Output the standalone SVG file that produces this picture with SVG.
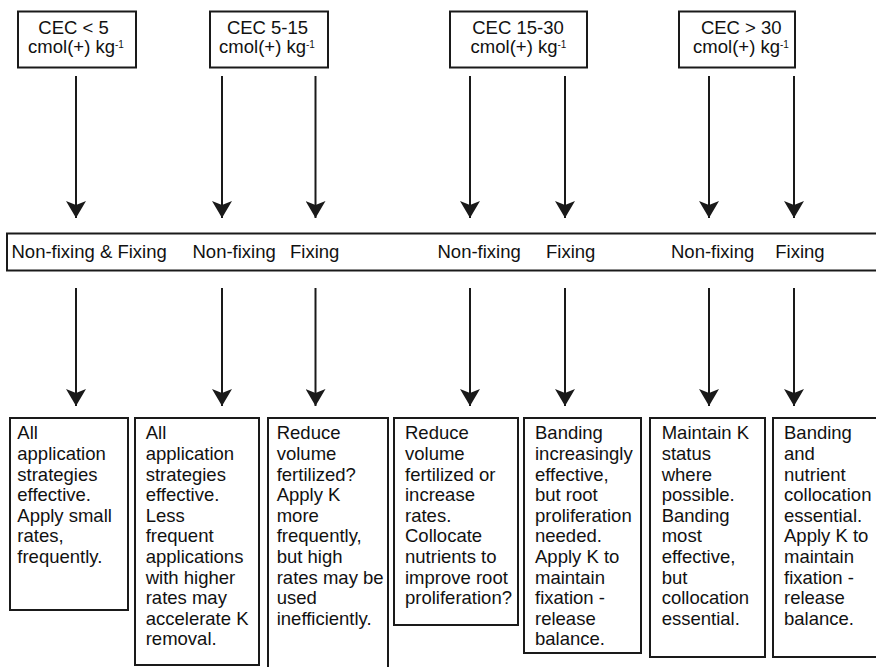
<svg xmlns="http://www.w3.org/2000/svg" width="876" height="667" viewBox="0 0 876 667">
<style>
text{font-family:"Liberation Sans",Arial,sans-serif;font-size:18.5px;fill:#111}
.box{fill:#fff;stroke:#1a1a1a;stroke-width:2}
.c{text-anchor:middle}
.sup{font-size:10px}
.arr{stroke:#1a1a1a;stroke-width:2;fill:none;marker-end:url(#ah)}
</style>
<defs>
<marker id="ah" markerUnits="userSpaceOnUse" viewBox="0 -10 18 20" refX="17" refY="0" markerWidth="18" markerHeight="20" orient="auto">
<path d="M0,-10 L17,0 L0,10 L4,0 Z" fill="#1a1a1a"/>
</marker>
</defs>
<rect width="876" height="667" fill="#fff"/>

<g id="connectors">
<line class="arr" x1="76" y1="76" x2="76" y2="218"/>
<line class="arr" x1="222" y1="76" x2="222" y2="218"/>
<line class="arr" x1="315.5" y1="76" x2="315.5" y2="218"/>
<line class="arr" x1="470" y1="76" x2="470" y2="218"/>
<line class="arr" x1="565" y1="76" x2="565" y2="218"/>
<line class="arr" x1="709" y1="76" x2="709" y2="218"/>
<line class="arr" x1="794" y1="76" x2="794" y2="218"/>
<line class="arr" x1="76" y1="288" x2="76" y2="406"/>
<line class="arr" x1="222" y1="288" x2="222" y2="406"/>
<line class="arr" x1="315.5" y1="288" x2="315.5" y2="406"/>
<line class="arr" x1="470" y1="288" x2="470" y2="406"/>
<line class="arr" x1="565" y1="288" x2="565" y2="406"/>
<line class="arr" x1="709" y1="288" x2="709" y2="406"/>
<line class="arr" x1="794" y1="288" x2="794" y2="406"/>
</g>

<g id="cec1">
<rect class="box" x="18" y="11.5" width="118" height="56"/>
<text class="c" x="73.5" y="33.5">CEC &lt; 5</text>
<text class="c" x="76" y="52.5">cmol(+) kg<tspan class="sup" dy="-4.5">-1</tspan></text>
</g>
<g id="cec2">
<rect class="box" x="210" y="11.5" width="118" height="56"/>
<text class="c" x="267.5" y="33.5">CEC 5-15</text>
<text class="c" x="267" y="52.5">cmol(+) kg<tspan class="sup" dy="-4.5">-1</tspan></text>
</g>
<g id="cec3">
<rect class="box" x="450" y="11.5" width="137" height="56"/>
<text class="c" x="518" y="33.5">CEC 15-30</text>
<text class="c" x="518.5" y="52.5">cmol(+) kg<tspan class="sup" dy="-4.5">-1</tspan></text>
</g>
<g id="cec4">
<rect class="box" x="679" y="11.5" width="116" height="56"/>
<text class="c" x="741.3" y="33.5">CEC &gt; 30</text>
<text class="c" x="741" y="52.5">cmol(+) kg<tspan class="sup" dy="-4.5">-1</tspan></text>
</g>

<g id="types">
<rect class="box" x="7" y="233.5" width="880" height="37"/>
<text x="11.5" y="257.5">Non-fixing &amp; Fixing</text>
<text x="192.5" y="257.5">Non-fixing</text>
<text x="290" y="257.5">Fixing</text>
<text x="437.5" y="257.5">Non-fixing</text>
<text x="546" y="257.5">Fixing</text>
<text x="671" y="257.5">Non-fixing</text>
<text x="775.3" y="257.5">Fixing</text>
</g>

<g id="rec1">
<rect class="box" x="10" y="418" width="118" height="192"/>
<text x="17.3" y="439.3">
<tspan x="17.3" dy="0">All</tspan><tspan x="17.3" dy="20.6">application</tspan><tspan x="17.3" dy="20.6">strategies</tspan><tspan x="17.3" dy="20.6">effective.</tspan><tspan x="17.3" dy="20.6">Apply small</tspan><tspan x="17.3" dy="20.6">rates,</tspan><tspan x="17.3" dy="20.6">frequently.</tspan>
</text>
</g>
<g id="rec2">
<rect class="box" x="135" y="418" width="124" height="247"/>
<text x="145.7" y="439.3">
<tspan x="145.7" dy="0">All</tspan><tspan x="145.7" dy="20.6">application</tspan><tspan x="145.7" dy="20.6">strategies</tspan><tspan x="145.7" dy="20.6">effective.</tspan><tspan x="145.7" dy="20.6">Less</tspan><tspan x="145.7" dy="20.6">frequent</tspan><tspan x="145.7" dy="20.6">applications</tspan><tspan x="145.7" dy="20.6">with higher</tspan><tspan x="145.7" dy="20.6">rates may</tspan><tspan x="145.7" dy="20.6">accelerate K</tspan><tspan x="145.7" dy="20.6">removal.</tspan>
</text>
</g>
<g id="rec3">
<rect class="box" x="268" y="418" width="120" height="260"/>
<text x="276.7" y="439.3">
<tspan x="276.7" dy="0">Reduce</tspan><tspan x="276.7" dy="20.6">volume</tspan><tspan x="276.7" dy="20.6">fertilized?</tspan><tspan x="276.7" dy="20.6">Apply K</tspan><tspan x="276.7" dy="20.6">more</tspan><tspan x="276.7" dy="20.6">frequently,</tspan><tspan x="276.7" dy="20.6">but high</tspan><tspan x="276.7" dy="20.6">rates may be</tspan><tspan x="276.7" dy="20.6">used</tspan><tspan x="276.7" dy="20.6">inefficiently.</tspan>
</text>
</g>
<g id="rec4">
<rect class="box" x="394" y="418" width="124" height="207"/>
<text x="405" y="439.3">
<tspan x="405" dy="0">Reduce</tspan><tspan x="405" dy="20.6">volume</tspan><tspan x="405" dy="20.6">fertilized or</tspan><tspan x="405" dy="20.6">increase</tspan><tspan x="405" dy="20.6">rates.</tspan><tspan x="405" dy="20.6">Collocate</tspan><tspan x="405" dy="20.6">nutrients to</tspan><tspan x="405" dy="20.6">improve root</tspan><tspan x="405" dy="20.6">proliferation?</tspan>
</text>
</g>
<g id="rec5">
<rect class="box" x="524" y="418" width="117" height="235"/>
<text x="535" y="439.3">
<tspan x="535" dy="0">Banding</tspan><tspan x="535" dy="20.6">increasingly</tspan><tspan x="535" dy="20.6">effective,</tspan><tspan x="535" dy="20.6">but root</tspan><tspan x="535" dy="20.6">proliferation</tspan><tspan x="535" dy="20.6">needed.</tspan><tspan x="535" dy="20.6">Apply K to</tspan><tspan x="535" dy="20.6">maintain</tspan><tspan x="535" dy="20.6">fixation -</tspan><tspan x="535" dy="20.6">release</tspan><tspan x="535" dy="20.6">balance.</tspan>
</text>
</g>
<g id="rec6">
<rect class="box" x="650" y="418" width="115" height="239"/>
<text x="661.7" y="439.3">
<tspan x="661.7" dy="0">Maintain K</tspan><tspan x="661.7" dy="20.6">status</tspan><tspan x="661.7" dy="20.6">where</tspan><tspan x="661.7" dy="20.6">possible.</tspan><tspan x="661.7" dy="20.6">Banding</tspan><tspan x="661.7" dy="20.6">most</tspan><tspan x="661.7" dy="20.6">effective,</tspan><tspan x="661.7" dy="20.6">but</tspan><tspan x="661.7" dy="20.6">collocation</tspan><tspan x="661.7" dy="20.6">essential.</tspan>
</text>
</g>
<g id="rec7">
<rect class="box" x="773" y="418" width="110" height="239"/>
<text x="784" y="439.3">
<tspan x="784" dy="0">Banding</tspan><tspan x="784" dy="20.6">and</tspan><tspan x="784" dy="20.6">nutrient</tspan><tspan x="784" dy="20.6">collocation</tspan><tspan x="784" dy="20.6">essential.</tspan><tspan x="784" dy="20.6">Apply K to</tspan><tspan x="784" dy="20.6">maintain</tspan><tspan x="784" dy="20.6">fixation -</tspan><tspan x="784" dy="20.6">release</tspan><tspan x="784" dy="20.6">balance.</tspan>
</text>
</g>
</svg>
